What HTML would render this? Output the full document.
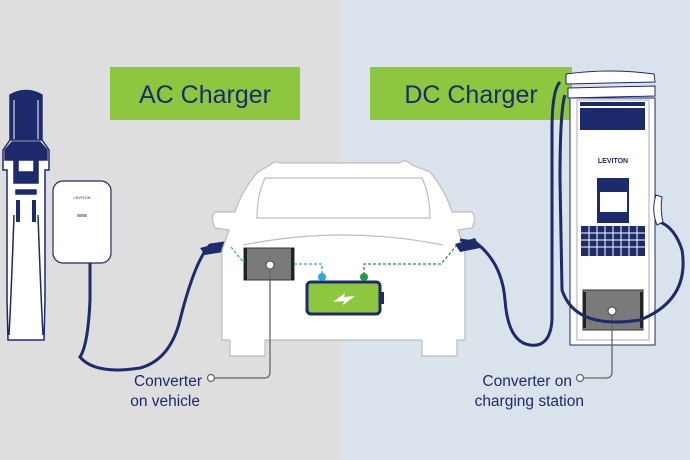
<!DOCTYPE html>
<html><head><style>
body{margin:0;width:690px;height:460px;overflow:hidden}
svg{display:block}
text{font-family:"Liberation Sans",sans-serif;fill:#1d2a6b}
</style></head><body>
<svg width="690" height="460" viewBox="0 0 690 460">
<rect x="0" y="0" width="341" height="460" fill="#dedede"/>
<rect x="341" y="0" width="349" height="460" fill="#dae2eb"/>

<rect x="110" y="67" width="190" height="53" fill="#8dc63f"/>
<text x="205" y="103" font-size="25" text-anchor="middle">AC Charger</text>
<rect x="370" y="67" width="202" height="53" fill="#8dc63f"/>
<text x="471" y="103" font-size="25" text-anchor="middle">DC Charger</text>

<!-- left pedestal -->
<g stroke="#1d2a6b" stroke-width="1.5">
<path d="M10 95 Q26 86 42 95 L42 140 L10 140 Z" fill="#1d2a6b"/>
<path d="M14 100 L14 140 M38 100 L38 140" stroke="#fff" stroke-width="1"/>
<path d="M3 150 L10 140 L42 140 L49 150 L49 170 L45 170 L45 300 L44 340 L8 340 L7 300 L7 170 L3 170 Z" fill="#fff"/>
<path d="M5 150 L12 142 L40 142 L47 150 L47 160 L5 160 Z" fill="#1d2a6b"/>
<rect x="14" y="155" width="24" height="28" fill="#1d2a6b"/>
<rect x="18" y="160" width="16" height="12" fill="#fff"/>
<rect x="16" y="190" width="20" height="4" fill="#1d2a6b"/>
<path d="M18 200 L18 222 M34 200 L34 222" stroke-width="4"/>
<path d="M14 215 Q11 300 9 335 M38 215 Q41 300 43 335" fill="none"/>
</g>
<rect x="53" y="181" width="58" height="82" rx="10" fill="#fff" stroke="#1d2a6b" stroke-width="1.2"/>
<rect x="77" y="214" width="10" height="3" fill="#aaa"/>
<text x="82" y="199" font-size="4" text-anchor="middle">LEVITON</text>
<path d="M90 263 L90 300 Q88 345 80 357 Q95 375 140 368 Q170 360 180 320 Q195 260 210 245 L232 242" fill="none" stroke="#1d2a6b" stroke-width="3"/>
<path d="M200 248 L230 240 L235 250 L205 255 Z" fill="#1d2a6b"/>

<g fill="#fff" stroke="#bdbdbd" stroke-width="1.2">
<path d="M270 165 Q275 160 280 163 L400 163 Q405 158 412 165 L430 172 Q445 190 452 212 L472 212 Q477 218 472 228 L458 230 L465 250 L465 340 L457 340 L457 356 L422 356 L422 340 L265 340 L265 356 L230 356 L230 340 L222 340 L222 250 L229 230 L215 228 Q210 218 215 212 L235 212 Q242 190 258 172 Z"/>
<path d="M265 178 L422 178 Q430 195 430 218 L257 218 Q257 195 265 178 Z"/>
<path d="M243 245 Q343 225 443 245" fill="none"/>
</g>
<rect x="244" y="248" width="50" height="32" fill="#7a7a7a" stroke="#333" stroke-width="1"/>
<rect x="244" y="248" width="3" height="32" fill="#222"/>
<rect x="291" y="248" width="3" height="32" fill="#222"/>
<circle cx="270" cy="265" r="4" fill="#fff" stroke="#444"/>
<path d="M270 269 L270 372 Q270 378 264 378 L215 378" fill="none" stroke="#666" stroke-width="1.3"/>
<circle cx="211" cy="378" r="3.5" fill="#fff" stroke="#666" stroke-width="1.3"/>
<text x="202" y="386" font-size="15.5" text-anchor="end">Converter</text>
<text x="200" y="406" font-size="15.5" text-anchor="end">on vehicle</text>
<path d="M231 247 L244 263 M294 264 L322 264 L322 275" fill="none" stroke="#29a8e0" stroke-width="1.3" stroke-dasharray="3,2"/>
<path d="M364 275 L364 264 L441 264 L457 245" fill="none" stroke="#1e9a48" stroke-width="1.3" stroke-dasharray="3,2"/>
<rect x="307" y="282" width="73" height="32" rx="4" fill="#8dc63f" stroke="#1d2a6b" stroke-width="3"/>
<rect x="380" y="292" width="4" height="12" fill="#1d2a6b"/>
<path d="M333 302 L345 293 L344 297 L355 296 L343 305 L344 301 Z" fill="#fff"/>
<circle cx="322" cy="277" r="4" fill="#29a8e0"/>
<circle cx="364" cy="277" r="4" fill="#1e9a48"/>

<g stroke="#1d2a6b" stroke-width="1">
<path d="M566 74 Q610 68 654 74 L655 82 L566 84 Z" fill="#fff"/>
<path d="M568 88 L655 86 L655 96 L568 98 Z" fill="#fff"/>
<rect x="570" y="98" width="85" height="247" fill="#fff"/>
<rect x="577" y="100" width="72" height="240" fill="#fff" stroke="#aab"/>
</g>
<rect x="580" y="102" width="65" height="4" fill="#1d2a6b"/>
<rect x="580" y="108" width="65" height="22" fill="#1d2a6b"/>
<text x="613" y="163" font-size="7" font-weight="bold" text-anchor="middle">LEVITON</text>
<rect x="597" y="178" width="32" height="45" fill="#1d2a6b"/>
<rect x="600" y="192" width="27" height="20" fill="#fff"/>
<rect x="581" y="226" width="64" height="30" fill="#1d2a6b"/>
<g stroke="#fff" stroke-width="1">
<path d="M581 233 H645 M581 240 H645 M581 247 H645"/>
<path d="M589 226 V256 M597 226 V256 M605 226 V256 M613 226 V256 M621 226 V256 M629 226 V256 M637 226 V256"/>
</g>
<rect x="583" y="290" width="60" height="40" fill="#7a7a7a" stroke="#333"/>
<rect x="583" y="292" width="3" height="36" fill="#222"/>
<rect x="640" y="292" width="3" height="36" fill="#222"/>
<circle cx="612" cy="311" r="4" fill="#fff" stroke="#444"/>
<path d="M612 315 L612 372 Q612 378 606 378 L584 378" fill="none" stroke="#666" stroke-width="1.3"/>
<circle cx="580" cy="378" r="3.5" fill="#fff" stroke="#666" stroke-width="1.3"/>
<text x="572" y="386" font-size="15.5" text-anchor="end">Converter on</text>
<text x="584" y="406" font-size="15.5" text-anchor="end">charging station</text>
<path d="M560 82 Q552 90 552 130 L552 320 Q550 348 530 345 Q508 342 505 300 Q502 262 475 242 L460 240" fill="none" stroke="#1d2a6b" stroke-width="3"/>
<path d="M565 95 Q560 110 560 180 L562 290 Q575 330 640 320 Q690 300 682 250 Q675 228 660 222" fill="none" stroke="#1d2a6b" stroke-width="3"/>
<path d="M455 244 L475 238 L480 248 L460 252 Z" fill="#1d2a6b"/>
<path d="M656 195 Q651 210 657 225 L663 222 Q660 210 662 197 Z" fill="#fff" stroke="#1d2a6b"/>
</svg>
</body></html>
